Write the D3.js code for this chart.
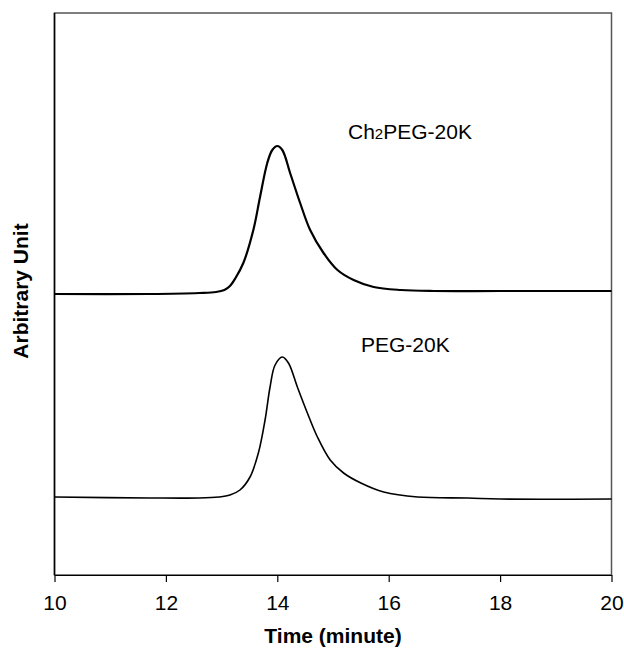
<!DOCTYPE html>
<html>
<head>
<meta charset="utf-8">
<script src="https://cdn.jsdelivr.net/npm/d3@7"></script>
<style>
  body { margin: 0; background: #fff; }
  text { font-family: Arial, "Liberation Sans", sans-serif; }
</style>
</head>
<body>
<div id="chart"></div>
<script>
// chromatogram traces (time in minutes, detector signal in arbitrary units)
var xTicks = [10, 12, 14, 16, 18, 20];

var ch2pegTime = [10, 11.7, 12.6, 12.9, 13.05, 13.15, 13.25, 13.39, 13.57, 13.69, 13.82, 13.91, 14.0,
    14.09, 14.23, 14.41, 14.59, 14.83, 15.08, 15.37, 15.73, 16.22, 16.81, 18.0, 20];
var ch2pegValue = [281, 281, 282, 283, 285, 289, 297, 312, 345, 378, 412, 425, 429,
    425, 402, 372, 345, 322, 305, 295, 288, 285, 284, 284, 284];

var pegTime = [10, 11.7, 12.6, 12.95, 13.15, 13.33, 13.51, 13.66, 13.78, 13.87, 13.96, 14.09,
    14.2, 14.36, 14.54, 14.72, 14.95, 15.19, 15.5, 15.91, 16.52, 17.42, 18.0, 20];
var pegValue = [78, 77, 77, 78, 80, 85, 98, 122, 155, 188, 210, 218,
    212, 188, 162, 138, 115, 102, 92, 83, 78, 77, 76, 76];

var seriesLabels = ["Ch", "2", "PEG-20K"];
var pegLabel = "PEG-20K";

var svgWidth = 624;
var svgHeight = 652;

var margin = { top: 13, right: 12.5, bottom: 77, left: 54.5 };
var width = svgWidth - margin.left - margin.right;
var height = svgHeight - margin.top - margin.bottom;

var svg = d3.select("#chart")
    .append("svg")
    .attr("width", svgWidth)
    .attr("height", svgHeight);

var chartGroup = svg.append("g")
    .attr("transform", `translate(${margin.left}, ${margin.top})`);

var xScale = d3.scaleLinear().domain([10, 20]).range([0, width]);
var yScale = d3.scaleLinear().domain([0, 562]).range([height, 0]);

// frame
chartGroup.append("rect")
    .attr("x", 0).attr("y", 0)
    .attr("width", width).attr("height", height)
    .attr("fill", "none")
    .attr("stroke", "#555")
    .attr("stroke-width", 1.5);

chartGroup.append("line")
    .attr("x1", 0).attr("x2", 0)
    .attr("y1", 0).attr("y2", height)
    .attr("stroke", "#000").attr("stroke-width", 1.5);

// x axis
var bottomAxis = d3.axisBottom(xScale)
    .tickValues(xTicks)
    .tickSize(7)
    .tickSizeOuter(0)
    .tickPadding(13);

var xAxis = chartGroup.append("g")
    .attr("transform", `translate(0, ${height})`)
    .call(bottomAxis);
xAxis.select(".domain").attr("stroke", "#000").attr("stroke-width", 1.2);
xAxis.selectAll(".tick line").attr("stroke", "#000").attr("stroke-width", 1.2);
xAxis.selectAll(".tick text")
    .attr("font-size", "21px")
    .attr("fill", "#000")
    .style("font-family", "Arial, 'Liberation Sans', sans-serif");

// traces
var line = d3.line()
    .x(d => xScale(d[0]))
    .y(d => yScale(d[1]))
    .curve(d3.curveCatmullRom.alpha(0.5));

chartGroup.append("path")
    .datum(d3.zip(ch2pegTime, ch2pegValue))
    .attr("d", line)
    .attr("fill", "none")
    .attr("stroke", "#000")
    .attr("stroke-width", 2.2);

chartGroup.append("path")
    .datum(d3.zip(pegTime, pegValue))
    .attr("d", line)
    .attr("fill", "none")
    .attr("stroke", "#000")
    .attr("stroke-width", 1.6);

// series labels
var lab1 = chartGroup.append("text")
    .attr("x", 348 - margin.left)
    .attr("y", 139 - margin.top)
    .attr("font-size", "21px")
    .attr("fill", "#000");
lab1.append("tspan").text(seriesLabels[0]);
lab1.append("tspan").attr("font-size", "15px").text(seriesLabels[1]);
lab1.append("tspan").text(seriesLabels[2]);

chartGroup.append("text")
    .attr("x", 361 - margin.left)
    .attr("y", 352 - margin.top)
    .attr("font-size", "21px")
    .attr("fill", "#000")
    .text(pegLabel);

// axis titles
svg.append("text")
    .attr("x", margin.left + width / 2)
    .attr("y", 643)
    .attr("text-anchor", "middle")
    .attr("font-size", "21px")
    .attr("font-weight", "bold")
    .text("Time (minute)");

svg.append("text")
    .attr("transform", "rotate(-90)")
    .attr("x", -291)
    .attr("y", 28)
    .attr("text-anchor", "middle")
    .attr("font-size", "21px")
    .attr("font-weight", "bold")
    .text("Arbitrary Unit");
</script>
</body>
</html>
